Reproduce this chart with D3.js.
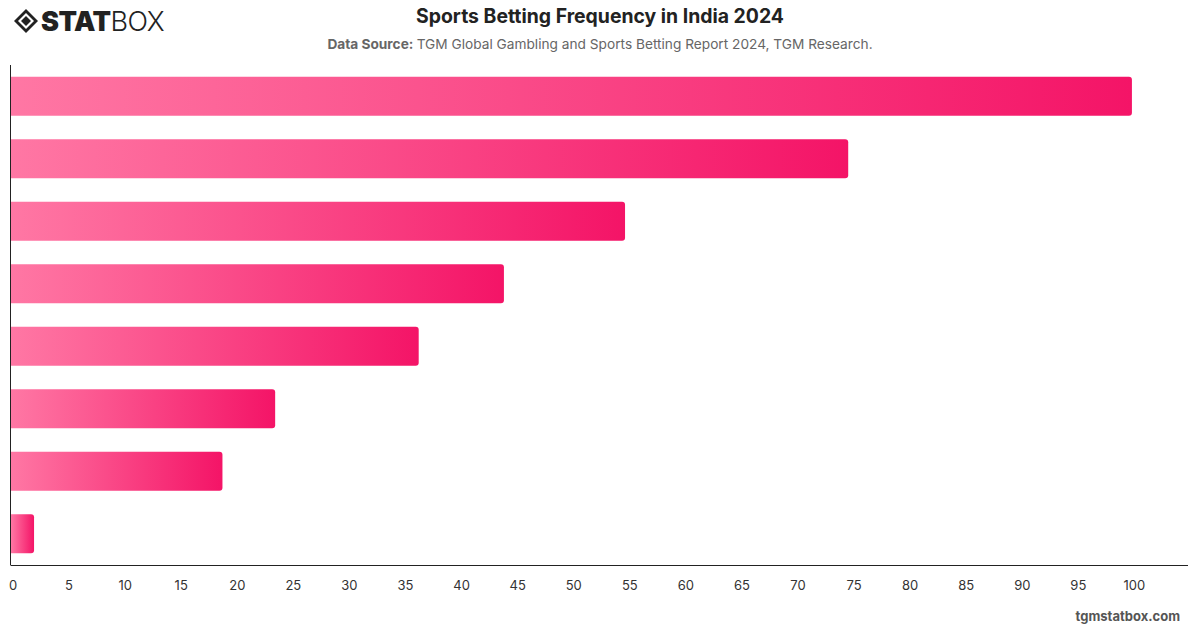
<!DOCTYPE html>
<html>
<head>
<meta charset="utf-8">
<script src="https://cdnjs.cloudflare.com/ajax/libs/d3/7.8.5/d3.min.js"></script>
<style>
  body { margin: 0; background: #fff; }
  svg { display: block; font-family: Inter, "Noto Sans", sans-serif; }
</style>
</head>
<body>
<svg id="chart" width="1200" height="628"></svg>
<script>
// values (category labels are not shown in the chart)
var categories = ["c1", "c2", "c3", "c4", "c5", "c6", "c7", "c8"];
var values = [100, 74.7, 54.8, 44.0, 36.4, 23.6, 18.9, 2.1];
var ticks = [0, 5, 10, 15, 20, 25, 30, 35, 40, 45, 50, 55, 60, 65, 70, 75, 80, 85, 90, 95, 100];

var svg = d3.select("#chart");
var plotLeft = 10.5, plotRight = 1188, plotTop = 65, plotBottom = 565;

var x = d3.scaleLinear().domain([0, 105]).range([plotLeft, plotRight]);
var y = d3.scaleBand().domain(categories).range([plotTop, plotBottom]).paddingInner(0.376).paddingOuter(0.188);

// gradient for bars
var defs = svg.append("defs");
var grad = defs.append("linearGradient").attr("id", "barGrad")
  .attr("x1", "0%").attr("x2", "100%").attr("y1", "0%").attr("y2", "0%");
grad.append("stop").attr("offset", "0%").attr("stop-color", "#ff77a4");
grad.append("stop").attr("offset", "100%").attr("stop-color", "#f41467");

// header
var logo = svg.append("g").attr("transform", "translate(14,9)");
logo.append("path").attr("d", "M12,0 L24,12 L12,24 L0,12 Z").attr("fill", "#222");
logo.append("path").attr("d", "M12,4 L20,12 L12,20 L4,12 Z").attr("fill", "#fff");
logo.append("path").attr("d", "M12,7 L17,12 L12,17 L7,12 Z").attr("fill", "#222");
logo.append("text").attr("x", 27).attr("y", 22)
  .style("font-size", "27px").style("font-weight", "900").style("letter-spacing", "-0.5px")
  .attr("fill", "#222").text("STAT")
  .append("tspan").style("font-weight", "300").text("BOX");

svg.append("text").attr("x", 600).attr("y", 23).attr("text-anchor", "middle")
  .style("font-size", "19.4px").style("font-weight", "700").attr("fill", "#222")
  .text("Sports Betting Frequency in India 2024");

var sub = svg.append("text").attr("x", 600).attr("y", 49).attr("text-anchor", "middle")
  .style("font-size", "13.7px").attr("fill", "#666");
sub.append("tspan").style("font-weight", "700").text("Data Source: ");
sub.append("tspan").text("TGM Global Gambling and Sports Betting Report 2024, TGM Research.");

// bars with rounded right end
function barPath(d, i) {
  var x0 = x(0) + 0.5, x1 = x(d), y0 = y(categories[i]), h = y.bandwidth(), r = 3;
  return "M" + x0 + "," + y0 + "H" + (x1 - r) + "Q" + x1 + "," + y0 + " " + x1 + "," + (y0 + r) +
    "V" + (y0 + h - r) + "Q" + x1 + "," + (y0 + h) + " " + (x1 - r) + "," + (y0 + h) +
    "H" + x0 + "Z";
}
svg.append("g").selectAll("path").data(values).enter().append("path")
  .attr("d", barPath).attr("fill", "url(#barGrad)");

// axes
svg.append("line").attr("x1", plotLeft).attr("x2", plotLeft).attr("y1", plotTop).attr("y2", plotBottom)
  .attr("stroke", "#222").attr("stroke-width", 1);

var xAxis = svg.append("g").attr("transform", "translate(0," + plotBottom + ")")
  .call(d3.axisBottom(x).tickValues(ticks).tickSize(0).tickPadding(16));
xAxis.select(".domain").attr("stroke", "#222").attr("d", "M" + plotLeft + ",0.5H" + plotRight);
xAxis.selectAll("text").style("font-size", "13px").style("font-family", "Inter, sans-serif")
  .attr("fill", "#333").attr("dx", "2");

svg.append("text").attr("x", 1180).attr("y", 621).attr("text-anchor", "end")
  .style("font-size", "13px").style("font-weight", "700").attr("fill", "#555")
  .text("tgmstatbox.com");
</script>
</body>
</html>
